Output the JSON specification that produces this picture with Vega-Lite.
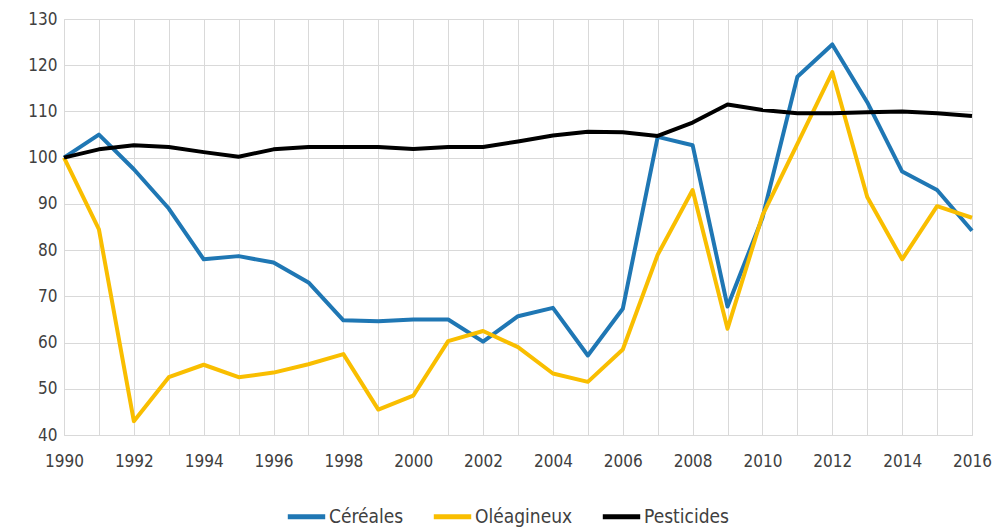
{
  "$schema": "https://vega.github.io/schema/vega-lite/v6.json",
  "width": 908,
  "height": 416,
  "autosize": {"type": "none"},
  "padding": {"left": 64, "top": 19, "right": 24, "bottom": 93},
  "background": "white",
  "config": {
    "font": "DejaVu Sans Condensed",
    "view": {"stroke": "#d9d9d9", "strokeWidth": 1},
    "axis": {"gridColor": "#d9d9d9", "gridWidth": 1, "domain": false, "ticks": false, "labelColor": "#404040", "labelFontSize": 17, "titleColor": "#404040"}
  },
  "data": {
    "values": [
      {"annee": 1990, "serie": "Céréales", "valeur": 100},
      {"annee": 1991, "serie": "Céréales", "valeur": 105},
      {"annee": 1992, "serie": "Céréales", "valeur": 97.5},
      {"annee": 1993, "serie": "Céréales", "valeur": 89},
      {"annee": 1994, "serie": "Céréales", "valeur": 78},
      {"annee": 1995, "serie": "Céréales", "valeur": 78.7},
      {"annee": 1996, "serie": "Céréales", "valeur": 77.3},
      {"annee": 1997, "serie": "Céréales", "valeur": 73},
      {"annee": 1998, "serie": "Céréales", "valeur": 64.8},
      {"annee": 1999, "serie": "Céréales", "valeur": 64.6},
      {"annee": 2000, "serie": "Céréales", "valeur": 65},
      {"annee": 2001, "serie": "Céréales", "valeur": 65},
      {"annee": 2002, "serie": "Céréales", "valeur": 60.2},
      {"annee": 2003, "serie": "Céréales", "valeur": 65.7},
      {"annee": 2004, "serie": "Céréales", "valeur": 67.5},
      {"annee": 2005, "serie": "Céréales", "valeur": 57.2},
      {"annee": 2006, "serie": "Céréales", "valeur": 67.3},
      {"annee": 2007, "serie": "Céréales", "valeur": 104.5},
      {"annee": 2008, "serie": "Céréales", "valeur": 102.7},
      {"annee": 2009, "serie": "Céréales", "valeur": 67.8},
      {"annee": 2010, "serie": "Céréales", "valeur": 87},
      {"annee": 2011, "serie": "Céréales", "valeur": 117.5},
      {"annee": 2012, "serie": "Céréales", "valeur": 124.5},
      {"annee": 2013, "serie": "Céréales", "valeur": 112},
      {"annee": 2014, "serie": "Céréales", "valeur": 97},
      {"annee": 2015, "serie": "Céréales", "valeur": 93},
      {"annee": 2016, "serie": "Céréales", "valeur": 84.2},
      {"annee": 1990, "serie": "Oléagineux", "valeur": 100},
      {"annee": 1991, "serie": "Oléagineux", "valeur": 84.5},
      {"annee": 1992, "serie": "Oléagineux", "valeur": 43},
      {"annee": 1993, "serie": "Oléagineux", "valeur": 52.5},
      {"annee": 1994, "serie": "Oléagineux", "valeur": 55.2},
      {"annee": 1995, "serie": "Oléagineux", "valeur": 52.5},
      {"annee": 1996, "serie": "Oléagineux", "valeur": 53.5},
      {"annee": 1997, "serie": "Oléagineux", "valeur": 55.3},
      {"annee": 1998, "serie": "Oléagineux", "valeur": 57.5},
      {"annee": 1999, "serie": "Oléagineux", "valeur": 45.5},
      {"annee": 2000, "serie": "Oléagineux", "valeur": 48.5},
      {"annee": 2001, "serie": "Oléagineux", "valeur": 60.3},
      {"annee": 2002, "serie": "Oléagineux", "valeur": 62.5},
      {"annee": 2003, "serie": "Oléagineux", "valeur": 59},
      {"annee": 2004, "serie": "Oléagineux", "valeur": 53.3},
      {"annee": 2005, "serie": "Oléagineux", "valeur": 51.5},
      {"annee": 2006, "serie": "Oléagineux", "valeur": 58.5},
      {"annee": 2007, "serie": "Oléagineux", "valeur": 79},
      {"annee": 2008, "serie": "Oléagineux", "valeur": 93},
      {"annee": 2009, "serie": "Oléagineux", "valeur": 63},
      {"annee": 2010, "serie": "Oléagineux", "valeur": 87.5},
      {"annee": 2011, "serie": "Oléagineux", "valeur": 103},
      {"annee": 2012, "serie": "Oléagineux", "valeur": 118.5},
      {"annee": 2013, "serie": "Oléagineux", "valeur": 91.5},
      {"annee": 2014, "serie": "Oléagineux", "valeur": 78},
      {"annee": 2015, "serie": "Oléagineux", "valeur": 89.5},
      {"annee": 2016, "serie": "Oléagineux", "valeur": 87},
      {"annee": 1990, "serie": "Pesticides", "valeur": 100},
      {"annee": 1991, "serie": "Pesticides", "valeur": 101.8},
      {"annee": 1992, "serie": "Pesticides", "valeur": 102.7},
      {"annee": 1993, "serie": "Pesticides", "valeur": 102.3},
      {"annee": 1994, "serie": "Pesticides", "valeur": 101.2},
      {"annee": 1995, "serie": "Pesticides", "valeur": 100.2},
      {"annee": 1996, "serie": "Pesticides", "valeur": 101.8},
      {"annee": 1997, "serie": "Pesticides", "valeur": 102.3},
      {"annee": 1998, "serie": "Pesticides", "valeur": 102.3},
      {"annee": 1999, "serie": "Pesticides", "valeur": 102.3},
      {"annee": 2000, "serie": "Pesticides", "valeur": 101.9},
      {"annee": 2001, "serie": "Pesticides", "valeur": 102.3},
      {"annee": 2002, "serie": "Pesticides", "valeur": 102.3},
      {"annee": 2003, "serie": "Pesticides", "valeur": 103.5},
      {"annee": 2004, "serie": "Pesticides", "valeur": 104.8},
      {"annee": 2005, "serie": "Pesticides", "valeur": 105.6},
      {"annee": 2006, "serie": "Pesticides", "valeur": 105.5},
      {"annee": 2007, "serie": "Pesticides", "valeur": 104.7},
      {"annee": 2008, "serie": "Pesticides", "valeur": 107.6},
      {"annee": 2009, "serie": "Pesticides", "valeur": 111.5},
      {"annee": 2010, "serie": "Pesticides", "valeur": 110.3},
      {"annee": 2011, "serie": "Pesticides", "valeur": 109.6},
      {"annee": 2012, "serie": "Pesticides", "valeur": 109.6},
      {"annee": 2013, "serie": "Pesticides", "valeur": 109.8},
      {"annee": 2014, "serie": "Pesticides", "valeur": 110},
      {"annee": 2015, "serie": "Pesticides", "valeur": 109.6},
      {"annee": 2016, "serie": "Pesticides", "valeur": 109}
    ]
  },
  "mark": {"type": "line", "strokeWidth": 4, "strokeJoin": "round"},
  "encoding": {
    "x": {
      "field": "annee",
      "type": "quantitative",
      "scale": {"domain": [1990, 2016], "nice": false, "zero": false},
      "axis": {
        "title": null,
        "values": [1990,1991,1992,1993,1994,1995,1996,1997,1998,1999,2000,2001,2002,2003,2004,2005,2006,2007,2008,2009,2010,2011,2012,2013,2014,2015,2016],
        "format": "d",
        "labelExpr": "datum.value % 2 == 0 ? datum.label : ''",
        "labelPadding": 18,
        "labelFlush": false,
        "labelOverlap": false
      }
    },
    "y": {
      "field": "valeur",
      "type": "quantitative",
      "scale": {"domain": [40, 130], "nice": false, "zero": false},
      "axis": {"title": null, "values": [40,50,60,70,80,90,100,110,120,130], "labelPadding": 7}
    },
    "color": {
      "field": "serie",
      "type": "nominal",
      "scale": {"domain": ["Céréales", "Oléagineux", "Pesticides"], "range": ["#1f77b4", "#f9be00", "#000000"]},
      "legend": {
        "title": null,
        "orient": "none",
        "legendX": 221,
        "legendY": 476,
        "direction": "horizontal",
        "symbolType": "stroke",
        "symbolStrokeWidth": 5,
        "symbolSize": 1400,
        "labelFontSize": 19,
        "labelColor": "#404040",
        "labelOffset": 1,
        "columnPadding": 19
      }
    }
  }
}
